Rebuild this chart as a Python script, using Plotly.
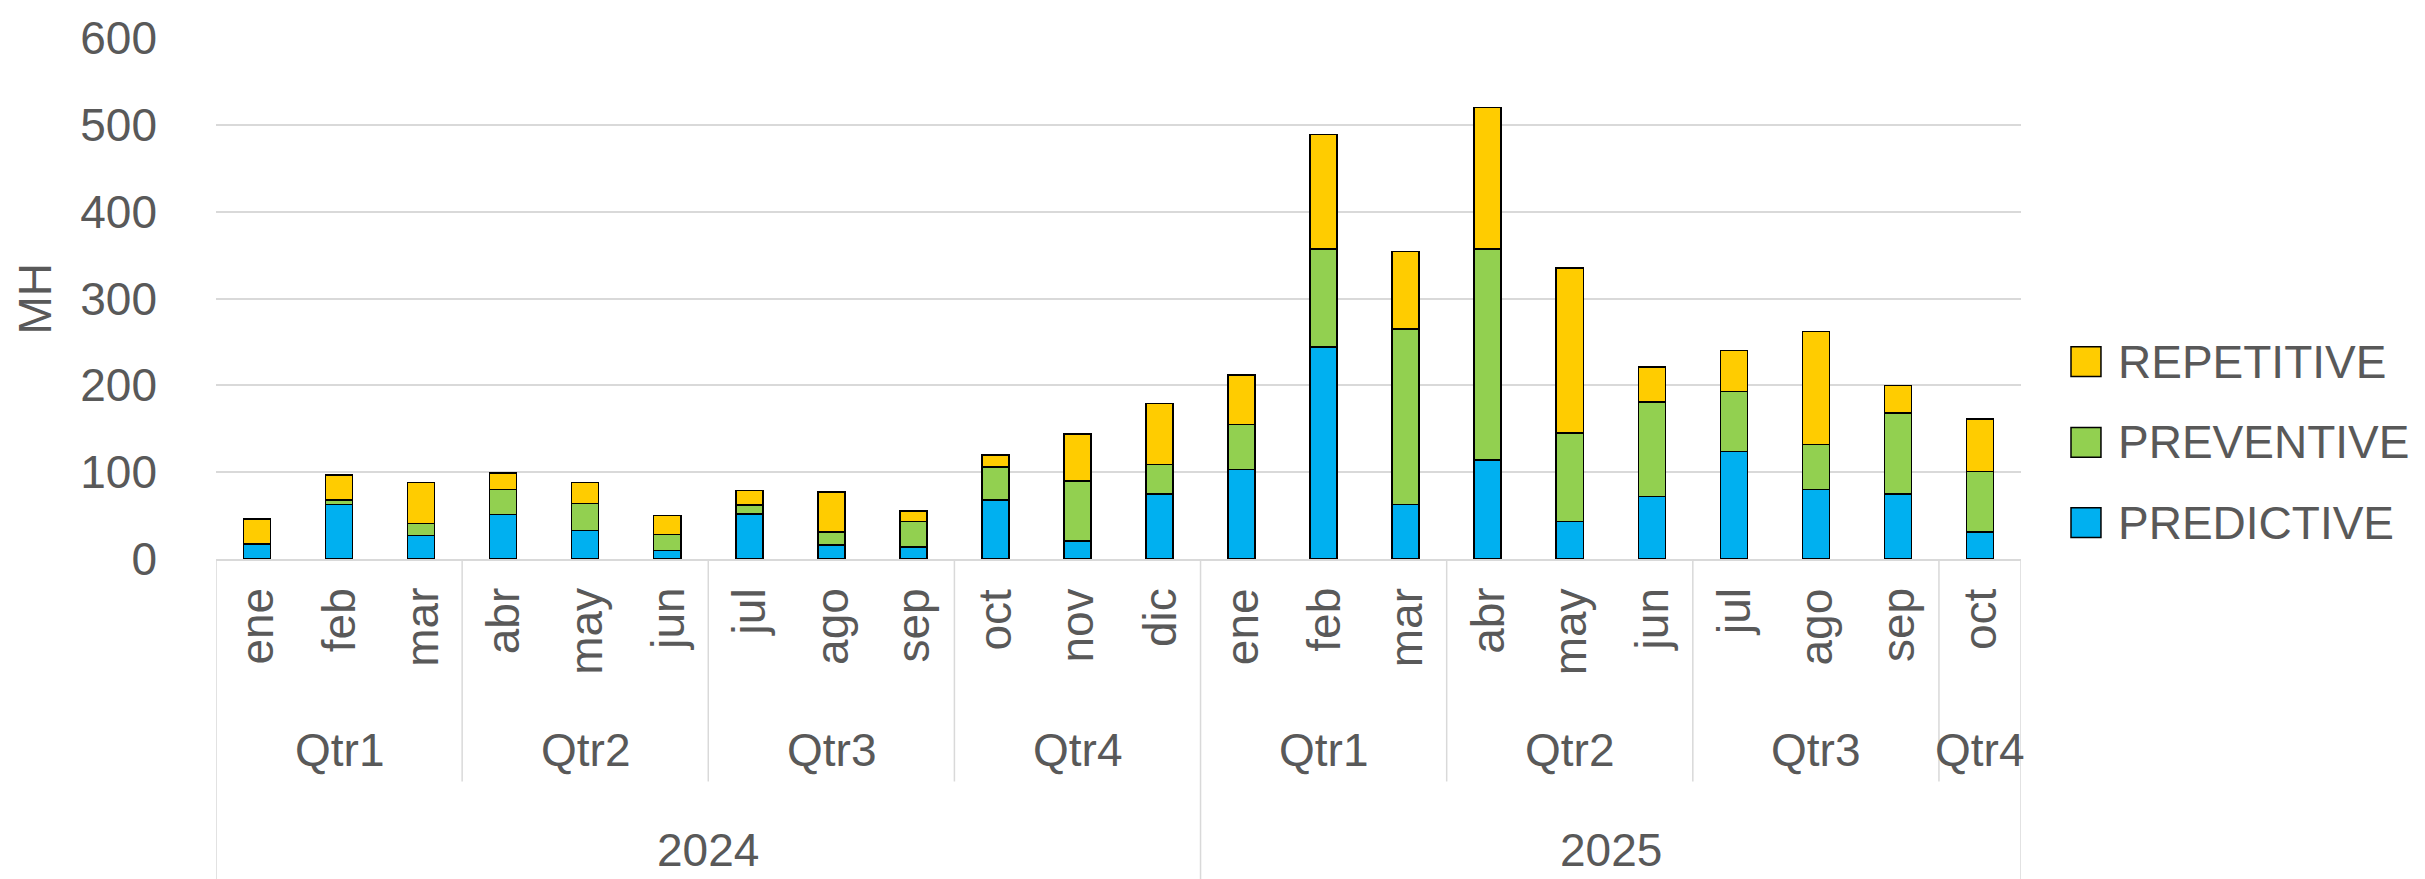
import plotly.graph_objects as go

# Data (MH per month)
months = ["ene", "feb", "mar", "abr", "may", "jun", "jul", "ago", "sep", "oct", "nov", "dic",
          "ene", "feb", "mar", "abr", "may", "jun", "jul", "ago", "sep", "oct"]
quarters = ["Qtr1", "Qtr1", "Qtr1", "Qtr2", "Qtr2", "Qtr2", "Qtr3", "Qtr3", "Qtr3", "Qtr4", "Qtr4", "Qtr4",
            "Qtr1", "Qtr1", "Qtr1", "Qtr2", "Qtr2", "Qtr2", "Qtr3", "Qtr3", "Qtr3", "Qtr4"]
years = ["2024"] * 12 + ["2025"] * 10

predictive = [17, 63, 27, 51, 33, 10, 52, 16, 14, 68, 21, 75, 103, 244, 63, 114, 43, 72, 124, 80, 75, 31]
preventive = [0, 5, 14, 29, 31, 18, 10, 15, 29, 38, 69, 34, 52, 113, 202, 243, 102, 109, 69, 52, 93, 70]
repetitive = [29, 29, 47, 19, 24, 22, 17, 46, 12, 14, 54, 70, 57, 132, 89, 163, 190, 40, 47, 130, 32, 60]

series_names = ["PREDICTIVE", "PREVENTIVE", "REPETITIVE"]
series_colors = ["#00B0F0", "#92D050", "#FFCC00"]

TEXT = "#595959"
GRID = "#D9D9D9"
FONT = "Liberation Sans, Arial, sans-serif"
FS = 46

x = list(range(len(months)))

fig = go.Figure()
for name, vals, col in zip(series_names, [predictive, preventive, repetitive], series_colors):
    fig.add_trace(go.Bar(x=x, y=vals, name=name, marker_color=col,
                         marker_line_color="black", marker_line_width=1.5,
                         showlegend=False))

annotations = []
shapes = []

# month labels (rotated)
for i, m in enumerate(months):
    annotations.append(dict(x=i, y=-0.052, xref="x", yref="paper", text=m, showarrow=False,
                            textangle=-90, yanchor="top", xanchor="center",
                            font=dict(size=FS, color=TEXT, family=FONT)))

# quarter / year groups
def runs(keys):
    out = []
    start = 0
    for i in range(1, len(keys) + 1):
        if i == len(keys) or keys[i] != keys[start]:
            out.append((start, i - 1))
            start = i
    return out

q_keys = list(zip(years, quarters))
for a, b in runs(q_keys):
    annotations.append(dict(x=(a + b) / 2, y=-0.366, xref="x", yref="paper", text=quarters[a],
                            showarrow=False, yanchor="middle",
                            font=dict(size=FS, color=TEXT, family=FONT)))
    if b < len(months) - 1 and years[b] == years[b + 1]:
        shapes.append(dict(type="line", xref="x", yref="paper", x0=b + 0.5, x1=b + 0.5,
                           y0=0, y1=-0.427, line=dict(color=GRID, width=1.5)))

for a, b in runs(years):
    annotations.append(dict(x=(a + b) / 2, y=-0.558, xref="x", yref="paper", text=years[a],
                            showarrow=False, yanchor="middle",
                            font=dict(size=FS, color=TEXT, family=FONT)))
    shapes.append(dict(type="line", xref="x", yref="paper", x0=a - 0.5, x1=a - 0.5,
                       y0=0, y1=-0.62, line=dict(color=GRID, width=1.5)))
shapes.append(dict(type="line", xref="x", yref="paper", x0=len(months) - 0.5, x1=len(months) - 0.5,
                   y0=0, y1=-0.62, line=dict(color=GRID, width=1.5)))

# y axis title
annotations.append(dict(x=-0.1008, y=0.5, xref="paper", yref="paper", text="MH", showarrow=False,
                        textangle=-90, xanchor="center", yanchor="middle",
                        font=dict(size=FS, color=TEXT, family=FONT)))

# legend drawn by hand so the swatches can be as large as in the original
leg_y = [0.070, 0.224, 0.379]
for name, col, ly in zip(series_names, series_colors, leg_y):
    shapes.append(dict(type="rect", xref="paper", yref="paper",
                       x0=1.0277, x1=1.0443, y0=ly - 0.0286, y1=ly + 0.0286,
                       fillcolor=col, line=dict(color="black", width=1.5)))
    annotations.append(dict(x=1.0526, y=ly, xref="paper", yref="paper", text=name, showarrow=False,
                            xanchor="left", yanchor="middle",
                            font=dict(size=FS, color=TEXT, family=FONT)))

fig.update_layout(
    barmode="stack",
    bargap=0.67,
    width=2425,
    height=879,
    margin=dict(l=216, r=404, t=35, b=320, pad=0),
    plot_bgcolor="white",
    paper_bgcolor="white",
    font=dict(family=FONT, size=FS, color=TEXT),
    annotations=annotations,
    shapes=shapes,
    showlegend=False,
)
fig.update_xaxes(range=[-0.5, len(months) - 0.5], showticklabels=False, showgrid=False,
                 showline=True, linecolor=GRID, linewidth=2, zeroline=False, ticks="")
fig.update_yaxes(range=[0, 600], dtick=100, showgrid=True, gridcolor=GRID, gridwidth=1.5,
                 zeroline=False, showline=False, ticks="", ticklabelstandoff=58,
                 tickfont=dict(size=FS, color=TEXT, family=FONT))

fig.write_html("out.html", config={"displayModeBar": False},
               post_script="document.body.style.margin='0';")
